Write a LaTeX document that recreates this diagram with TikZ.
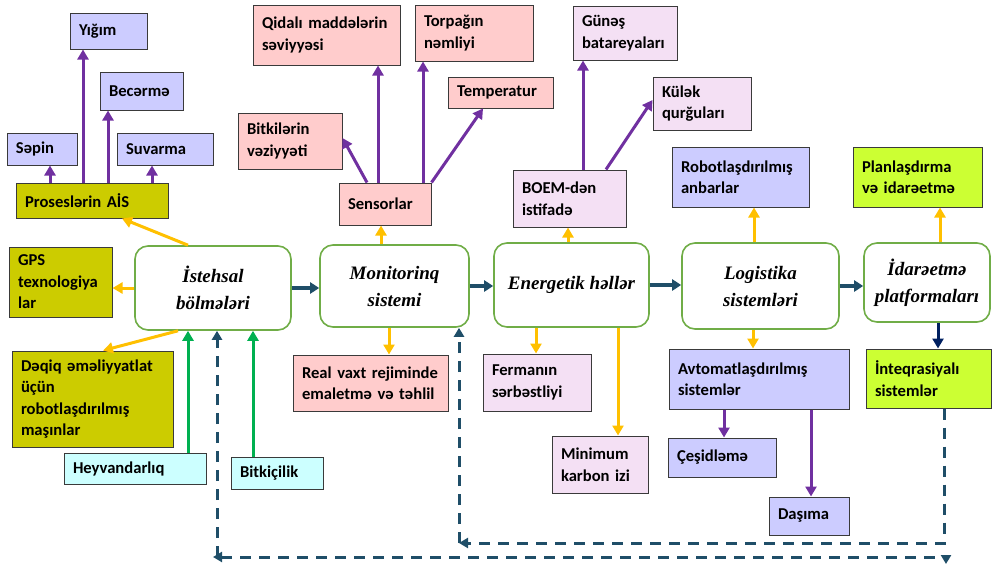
\documentclass[tikz,border=0pt]{standalone}
\usepackage{fontspec}
\setmainfont{Carlito}
\newfontfamily\headserif{Liberation Serif}
\usetikzlibrary{arrows.meta,calc}

\definecolor{flowteal}{HTML}{1F4E68}
\definecolor{linkyellow}{HTML}{FFC000}
\definecolor{linkpurple}{HTML}{7030A0}
\definecolor{linkgreen}{HTML}{00B050}
\definecolor{linknavy}{HTML}{002060}
\definecolor{mainedge}{HTML}{70AD47}
\definecolor{boxedge}{HTML}{3A3A3A}
\definecolor{olivemain}{HTML}{D3D76B}
\definecolor{peachmain}{HTML}{FBE5D6}
\definecolor{orchidmain}{HTML}{F0CDEE}
\definecolor{skymain}{HTML}{C1E4F5}
\definecolor{mustard}{HTML}{CCCC00}
\definecolor{lavender}{HTML}{CCCCFF}
\definecolor{rosebox}{HTML}{FFCCCC}
\definecolor{blushbox}{HTML}{F4E0F4}
\definecolor{icebox}{HTML}{CCFFFF}
\definecolor{limebox}{HTML}{CCFF33}

% label face with slightly tighter word spacing
\newcommand\satfont{\bfseries\fontsize{16.6}{21.5}\selectfont
  \spaceskip=3.6pt plus 1pt minus 0.5pt\relax}

\tikzset{
  sat/.style={draw=boxedge, line width=1pt, inner sep=0pt, align=left,
    font=\satfont},
  mainbox/.style={draw=mainedge, line width=1.6pt, rounded corners=13pt,
    inner sep=0pt, align=center,
    font=\headserif\bfseries\itshape\fontsize{19}{27}\selectfont},
  flowarrow/.style={draw=flowteal, line width=3.4pt,
    -{Triangle[length=9pt,width=11pt]}},
  yarrow/.style={draw=linkyellow, line width=3pt,
    -{Triangle[length=10pt,width=11pt]}},
  parrow/.style={draw=linkpurple, line width=3pt,
    -{Triangle[length=10pt,width=11pt]}},
  garrow/.style={draw=linkgreen, line width=3pt,
    -{Triangle[length=10pt,width=11pt]}},
  narrow/.style={draw=linknavy, line width=3pt,
    -{Triangle[length=10pt,width=11pt]}},
  feedback/.style={draw=flowteal, line width=3pt,
    dash pattern=on 11pt off 8pt},
  fbtip/.tip={Triangle[length=9pt,width=10pt]},
}

% box by its corners: style, name, x1, y1, x2, y2, text
\newcommand\boxat[7]{%
  \pgfmathsetmacro\bxw{#5-#3}%
  \pgfmathsetmacro\bxh{#6-#4}%
  \pgfmathsetmacro\bxt{#5-#3-18}%
  \pgfmathsetmacro\bxcx{(#3+#5)/2}%
  \pgfmathsetmacro\bxcy{(#4+#6)/2}%
  \node[#1, minimum width=\bxw pt, minimum height=\bxh pt, text width=\bxt pt]
    (#2) at (\bxcx,\bxcy) {#7};}
\newcommand\mainat[7]{%
  \pgfmathsetmacro\bxw{#5-#3}%
  \pgfmathsetmacro\bxh{#6-#4}%
  \pgfmathsetmacro\bxcx{(#3+#5)/2}%
  \pgfmathsetmacro\bxcy{(#4+#6)/2}%
  \node[mainbox, minimum width=\bxw pt, minimum height=\bxh pt]
    (#2) at (\bxcx,\bxcy) {#7};}

\begin{document}
\begin{tikzpicture}[x=1pt, y=-1pt]
\useasboundingbox (0,0) rectangle (992,565);

% main chain
\mainat{fill=olivemain}{ist}{135}{246}{291}{330}{İstehsal\\bölmələri}
\mainat{fill=peachmain}{mon}{320}{245}{469}{327}{Monitorinq\\sistemi}
\mainat{fill=orchidmain}{ene}{494}{243}{649}{327}{Energetik həllər}
\mainat{fill=skymain}{log}{682}{243}{839}{329}{Logistika\\sistemləri}
\mainat{fill=olivemain}{ida}{864}{243}{990}{322}{İdarəetmə\\platformaları}

% production branch
\boxat{sat,fill=lavender}{yig}{70}{13}{147}{49}{Yığım}
\boxat{sat,fill=lavender}{bec}{100}{72}{183}{110}{Becərmə}
\boxat{sat,fill=lavender}{sep}{7}{133}{77}{165}{Səpin}
\boxat{sat,fill=lavender}{suv}{117}{133}{213}{165}{Suvarma}
\boxat{sat,fill=mustard}{ais}{16}{183}{168}{218}{Proseslərin AİS}
\boxat{sat,fill=mustard}{gps}{9}{247}{112}{317}{GPS\\texnologiya\\lar}
\boxat{sat,fill=mustard}{deq}{12}{351}{173}{447}{Dəqiq əməliyyatlat\\üçün\\robotlaşdırılmış\\maşınlar}
\boxat{sat,fill=icebox}{hey}{64}{453}{206}{484}{Heyvandarlıq}
\boxat{sat,fill=icebox}{bit}{231}{457}{323}{489}{Bitkiçilik}

% monitoring branch
\boxat{sat,fill=rosebox}{qid}{253}{5}{400}{65}{Qidalı maddələrin\\səviyyəsi}
\boxat{sat,fill=rosebox}{tor}{415}{5}{533}{61}{Torpağın\\nəmliyi}
\boxat{sat,fill=rosebox}{tem}{448}{77}{553}{108}{Temperatur}
\boxat{sat,fill=rosebox}{bvz}{238}{113}{342}{169}{Bitkilərin\\vəziyyəti}
\boxat{sat,fill=rosebox}{sen}{339}{183}{431}{225}{Sensorlar}
\boxat{sat,fill=rosebox}{rea}{293}{355}{448}{411}{Real vaxt rejiminde\\emaletmə və təhlil}

% energy branch
\boxat{sat,fill=blushbox}{gun}{573}{6}{677}{60}{Günəş\\batareyaları}
\boxat{sat,fill=blushbox}{kul}{653}{77}{751}{130}{Külək\\qurğuları}
\boxat{sat,fill=blushbox}{boem}{513}{170}{626}{227}{BOEM-dən\\istifadə}
\boxat{sat,fill=blushbox}{fer}{483}{354}{591}{411}{Fermanın\\sərbəstliyi}
\boxat{sat,fill=blushbox}{min}{552}{436}{648}{493}{Minimum\\karbon izi}

% logistics branch
\boxat{sat,fill=lavender}{anb}{672}{147}{809}{207}{Robotlaşdırılmış\\anbarlar}
\boxat{sat,fill=lavender}{avt}{669}{349}{849}{409}{Avtomatlaşdırılmış\\sistemlər}
\boxat{sat,fill=lavender}{ces}{668}{438}{776}{477}{Çeşidləmə}
\boxat{sat,fill=lavender}{das}{769}{497}{849}{535}{Daşıma}

% control branch
\boxat{sat,fill=limebox}{pla}{853}{147}{982}{207}{Planlaşdırma\\və idarəetmə}
\boxat{sat,fill=limebox}{inq}{866}{349}{991}{408}{İnteqrasiyalı\\sistemlər}

% flow between main stages
\draw[flowarrow] (ist.east) -- (ist.east -| mon.west);
\draw[flowarrow] (mon.east) -- (mon.east -| ene.west);
\draw[flowarrow] (ene.east) -- (ene.east -| log.west);
\draw[flowarrow] (log.east) -- (log.east -| ida.west);

% yellow links from main stages
\draw[yarrow] (ist.north -| 188,0) -- (ais.south -| 122,0);
\draw[yarrow] (ist.west) -- (ist.west -| gps.east);
\draw[yarrow] (ist.south -| 178,0) -- (deq.north -| 103,0);
\draw[yarrow] (mon.north -| 381,0) -- (sen.south -| 381,0);
\draw[yarrow] (mon.south -| 389,0) -- (rea.north -| 389,0);
\draw[yarrow] (ene.north -| 568,0) -- (boem.south -| 568,0);
\draw[yarrow] (ene.south -| 536,0) -- (fer.north -| 536,0);
\draw[yarrow] (ene.south -| 618,0) -- (min.north -| 618,0);
\draw[yarrow] (log.north -| 754,0) -- (anb.south -| 754,0);
\draw[yarrow] (log.south -| 753,0) -- (avt.north -| 753,0);
\draw[yarrow] (ida.north -| 940,0) -- (pla.south -| 940,0);
\draw[narrow] (ida.south -| 938,0) -- (inq.north -| 938,0);

% purple links to sub-items
\draw[parrow] (ais.north -| 50,0) -- (sep.south -| 50,0);
\draw[parrow] (ais.north -| 83,0) -- (yig.south -| 83,0);
\draw[parrow] (ais.north -| 108,0) -- (bec.south -| 108,0);
\draw[parrow] (ais.north -| 152,0) -- (suv.south -| 152,0);
\draw[parrow] (sen.north -| 367,0) -- (bvz.east |- 0,138);
\draw[parrow] (sen.north -| 378,0) -- (qid.south -| 378,0);
\draw[parrow] (sen.north -| 423,0) -- (tor.south -| 423,0);
\draw[parrow] (sen.north east) -- (tem.south -| 483,0);
\draw[parrow] (boem.north -| 583,0) -- (gun.south -| 583,0);
\draw[parrow] (boem.north -| 606,0) -- (kul.west |- 0,100);
\draw[parrow] (avt.south -| 724,0) -- (ces.north -| 724,0);
\draw[parrow] (avt.south -| 811,0) -- (das.north -| 811,0);

% green inputs
\draw[garrow] (hey.north -| 188,0) -- (ist.south -| 188,0);
\draw[garrow] (bit.north -| 253,0) -- (ist.south -| 253,0);

% dashed feedback loops
\coordinate (fbmid) at (459,543);
\coordinate (fblow) at (213,557);
\draw[feedback, -fbtip] (inq.south -| 944,0) |- (fbmid);
\draw[feedback, -fbtip] (fbmid) -- (mon.south -| 459,0);
\draw[feedback, fbtip-fbtip] (fblow) -- (946,557) -- (946,564);
\draw[feedback, -fbtip] (fblow -| 217,0) -- (ist.south -| 217,0);
\end{tikzpicture}
\end{document}
